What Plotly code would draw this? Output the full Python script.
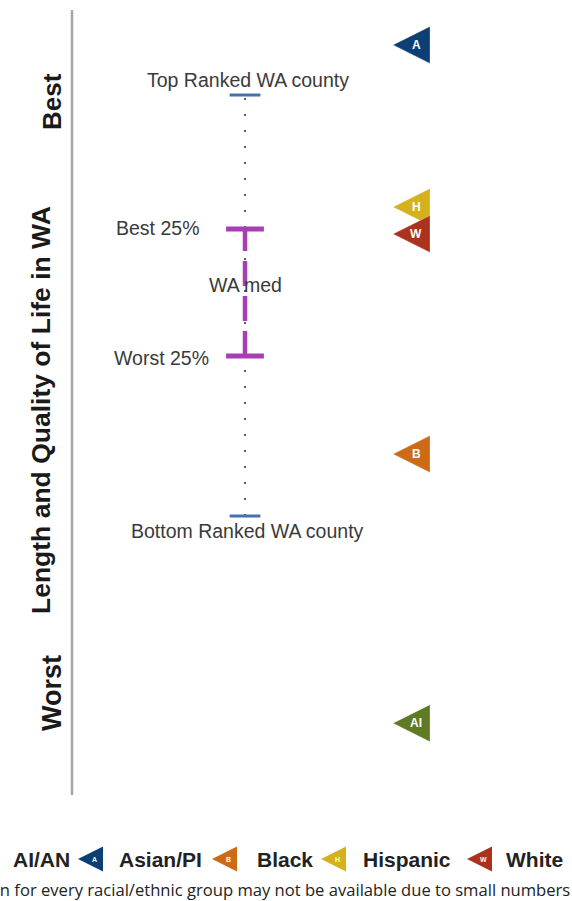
import plotly.graph_objects as go

# ---------------- data ----------------
# score scale: 100 = top ranked WA county, 0 = bottom ranked WA county
groups = ["Asian/PI", "Hispanic", "White", "Black", "AI/AN"]
group_codes = ["A", "H", "W", "B", "AI"]
group_scores = [111.9, 73.4, 67.0, 14.7, -49.2]
group_colors = ["#0c3f74", "#d5b11d", "#ac321e", "#cc6a15", "#5f7a25"]

county_labels = ["Top Ranked WA county", "Best 25%", "WA med", "Worst 25%", "Bottom Ranked WA county"]
county_scores = [100.0, 68.2, 55.0, 38.0, 0.0]

legend_names = ["AI/AN", "Asian/PI", "Black", "Hispanic", "White"]
legend_codes = ["AI", "A", "B", "H", "W"]
legend_colors = ["#5f7a25", "#0c3f74", "#cc6a15", "#d5b11d", "#ac321e"]

axis_title = "Length and Quality of Life in WA"
best_label = "Best"
worst_label = "Worst"
footnote = "Information for every racial/ethnic group may not be available due to small numbers"

# ---------------- layout constants ----------------
W, H = 572, 901
Y0, Y1 = -91.45, 122.57          # y-axis range (score units)
XW = 245 / W                      # county whisker x
XT = 393 / W                      # group marker tip x
FONT = "Liberation Sans, Arial, sans-serif"


def px_to_val(p):
    return Y1 - p * (Y1 - Y0) / H


top, q1, med, q3, bottom = county_scores

fig = go.Figure()

# dotted range line (top to bottom county)
fig.add_trace(go.Scatter(x=[XW, XW], y=[bottom, top], mode="lines",
                         line=dict(color="#5b5b66", width=2, dash="2px,14px"),
                         hoverinfo="skip", showlegend=False))
# top / bottom caps
fig.add_trace(go.Scatter(x=[XW, XW], y=[top, bottom], mode="markers",
                         marker=dict(symbol="line-ew", size=22,
                                     line=dict(color="#4273ad", width=3)),
                         hoverinfo="skip", showlegend=False))
# interquartile dashed line
fig.add_trace(go.Scatter(x=[XW, XW], y=[q3, q1], mode="lines",
                         line=dict(color="#a53fb2", width=4.5, dash="25px,10px"),
                         hoverinfo="skip", showlegend=False))
fig.add_trace(go.Scatter(x=[XW, XW], y=[q1, q3], mode="markers",
                         marker=dict(symbol="line-ew", size=27,
                                     line=dict(color="#a53fb2", width=5)),
                         hoverinfo="skip", showlegend=False))

# group markers
for name, code, score, col in zip(groups, group_codes, group_scores, group_colors):
    fig.add_trace(go.Scatter(x=[XT], y=[score], mode="markers", name=name,
                             marker=dict(symbol="arrow-left", size=37, color=col,
                                         line=dict(color="rgba(255,255,255,0.6)", width=0.5)),
                             hoverinfo="skip", showlegend=False))

annotations = []
for code, score in zip(group_codes, group_scores):
    annotations.append(dict(x=XT, y=score, xref="x", yref="y", text=code, showarrow=False,
                            xshift=23, yshift=0,
                            font=dict(family=FONT, size=12, color="white", weight="bold")))

# county labels
label_font = dict(family=FONT, size=19.5, color="#3a3a3a")
annotations += [
    dict(x=XW, y=top, text=county_labels[0], showarrow=False, yshift=15, xshift=3, font=label_font),
    dict(x=XW, y=q1, text=county_labels[1], showarrow=False, xanchor="right", xshift=-44, yshift=1, font=label_font),
    dict(x=XW, y=med, text=county_labels[2], showarrow=False, yshift=-1, font=label_font),
    dict(x=XW, y=q3, text=county_labels[3], showarrow=False, xanchor="right", xshift=-34, yshift=-2, font=label_font),
    dict(x=XW, y=bottom, text=county_labels[4], showarrow=False, yshift=-15, xshift=2, font=label_font),
]

# rotated axis texts
rot_font = dict(family=FONT, color="#1a1a1a", weight="bold")
annotations += [
    dict(x=52 / W, y=1 - 102 / H, xref="paper", yref="paper", text=best_label, textangle=-90,
         xanchor="center", yanchor="middle", showarrow=False, font=dict(rot_font, size=26)),
    dict(x=52 / W, y=1 - 693 / H, xref="paper", yref="paper", text=worst_label, textangle=-90,
         xanchor="center", yanchor="middle", showarrow=False, font=dict(rot_font, size=27)),
    dict(x=41 / W, y=1 - 410 / H, xref="paper", yref="paper", text=axis_title, textangle=-90,
         xanchor="center", yanchor="middle", showarrow=False, font=dict(rot_font, size=26.5)),
]

# custom legend
leg_y = px_to_val(859)
leg_tips = [-38, 78, 212, 321, 467]
leg_text_x = [11, 117, 255, 361, 504]
for name, code, col, tip, tx in zip(legend_names, legend_codes, legend_colors, leg_tips, leg_text_x):
    fig.add_trace(go.Scatter(x=[tip / W], y=[leg_y], mode="markers",
                             marker=dict(symbol="arrow-left", size=25, color=col),
                             hoverinfo="skip", showlegend=False))
    annotations.append(dict(x=tip / W, y=leg_y, text=code, showarrow=False, xshift=16,
                            font=dict(family=FONT, size=7, color="white", weight="bold")))
    annotations.append(dict(x=tx / W, y=leg_y, text=name, showarrow=False, xanchor="left",
                            font=dict(family=FONT, size=21, color="#222222", weight="bold")))

annotations.append(dict(x=1.0, y=1 - 889 / H, xref="paper", yref="paper", text=footnote,
                        showarrow=False, xanchor="right", yanchor="middle",
                        font=dict(family="Open Sans, sans-serif", size=16.6, color="#222222")))

fig.update_layout(
    width=W, height=H,
    margin=dict(l=0, r=0, t=0, b=0),
    paper_bgcolor="white", plot_bgcolor="white",
    xaxis=dict(range=[0, 1], visible=False, fixedrange=True),
    yaxis=dict(range=[Y0, Y1], visible=False, fixedrange=True),
    annotations=annotations,
    shapes=[dict(type="line", xref="paper", yref="paper", x0=72 / W, x1=72 / W,
                 y0=1 - 10 / H, y1=1 - 795 / H, line=dict(color="#a6a6a6", width=2.5))],
    showlegend=False,
)

fig.write_html("out.html", config={"displayModeBar": False},
               post_script="document.body.style.margin='0';")
